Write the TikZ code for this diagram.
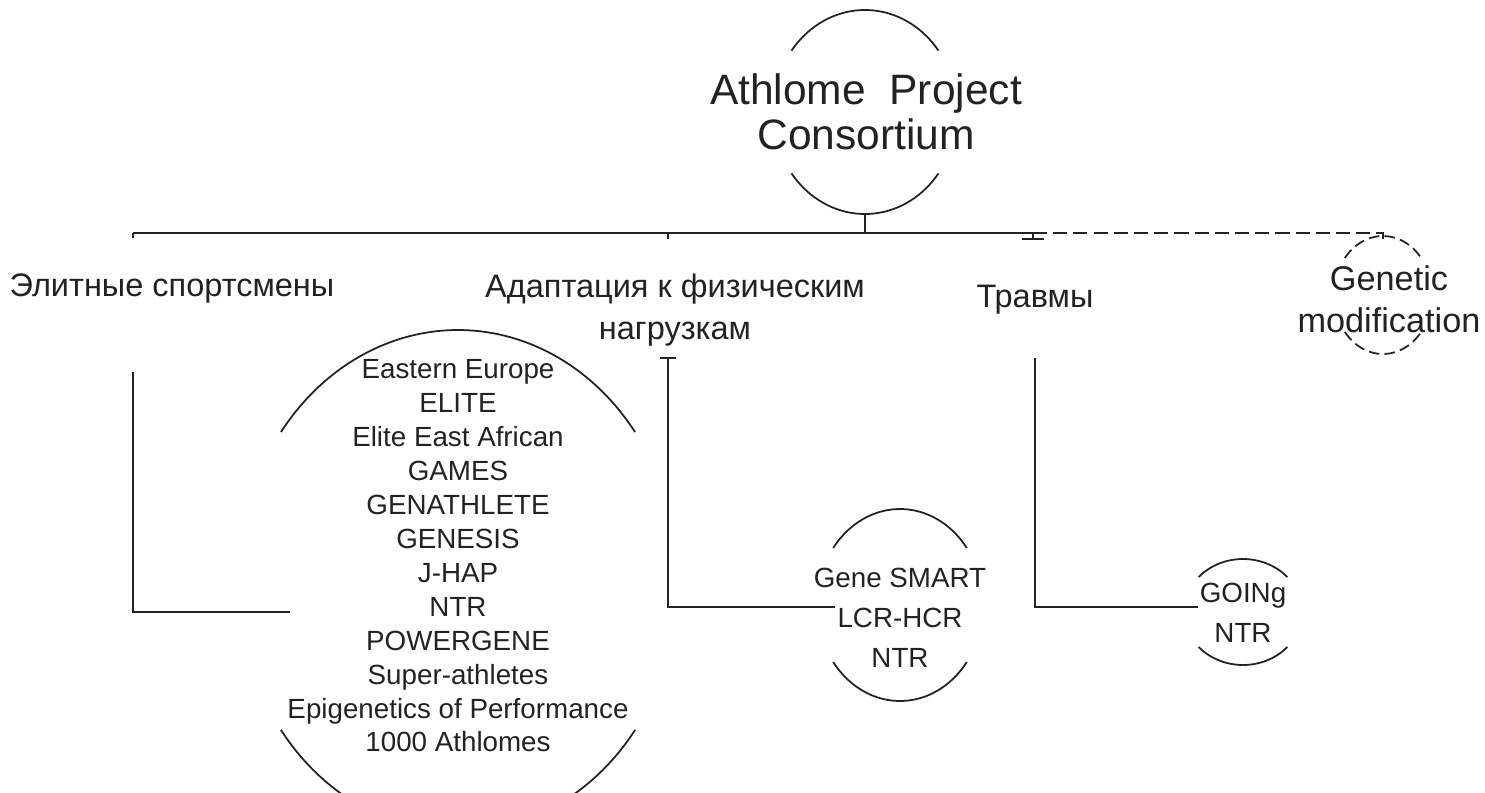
\documentclass[tikz,border=0pt]{standalone}
\usepackage{fontspec}
\setmainfont{Liberation Sans}
\usepackage{tikz}
\usetikzlibrary{calc,arrows.meta}
\definecolor{ink}{HTML}{222222}
\tikzstyle{title}=[align=center, inner sep=0pt, text=ink, font=\fontsize{24.2}{25.5}\selectfont]
\tikzstyle{branch}=[align=center, inner sep=0pt, text=ink, font=\fontsize{18.5}{23.5}\selectfont]
\tikzstyle{list}=[align=center, inner sep=0pt, text=ink, font=\fontsize{15.8}{19.3}\selectfont]
\tikzstyle{shortlist}=[list, font=\fontsize{15.8}{22.7}\selectfont]
\tikzstyle{wire}=[draw=ink, line width=1pt]
\tikzstyle{dashwire}=[wire, dash pattern=on 8pt off 3.5pt]
% two caps of an ellipse: [style] center, x radius, y radius, gap angle
\newcommand{\caparcs}[5][]{%
  \draw[wire,#1] ($(#2)+({180-#5}:#3 and #4)$) arc[start angle={180-#5}, end angle=#5, x radius=#3, y radius=#4];
  \draw[wire,#1] ($(#2)+({180+#5}:#3 and #4)$) arc[start angle={180+#5}, end angle={360-#5}, x radius=#3, y radius=#4];
}

\begin{document}
\begin{tikzpicture}[x=0.02cm, y=0.02cm]
\useasboundingbox (0,0) rectangle (1485,-792);

\node [title] (root) at (866,-112) {Athlome\ \ Project\\Consortium};
\node [branch] (elite) at (172,-289) {Элитные спортсмены};
\node [branch] (adapt) at (675,-310) {Адаптация к физическим\\нагрузкам};
\node [branch] (injury) at (1035,-300) {Травмы};
\node [branch, font=\fontsize{19.5}{24}\selectfont] (genmod) at (1389,-299) {Genetic\\modification};
\node [list] (elitelist) at (458,-556) {Eastern Europe\\ELITE\\Elite East African\\GAMES\\GENATHLETE\\GENESIS\\J-HAP\\NTR\\POWERGENE\\Super-athletes\\Epigenetics of Performance\\1000 Athlomes};
\node [shortlist] (adaptlist) at (900,-618) {Gene SMART\\LCR-HCR\\NTR};
\node [shortlist] (injlist) at (1243,-613) {GOINg\\NTR};

\coordinate (rootcap) at (865,-215);
\coordinate (hub) at (865,-233);
\coordinate (barL) at (133,-233);
\coordinate (barA) at (668,-233);
\coordinate (barI) at (1033,-233);
\coordinate (barG) at (1383,-233);
\coordinate (genmodcap) at (1383,-239);

\caparcs{865,-112}{92}{102}{37}
\caparcs{458,-581}{220}{251}{36.4}
\caparcs{900,-605}{83}{96}{36.4}
\caparcs{1243,-612}{59}{53}{41.3}
\caparcs[dash pattern=on 6pt off 3pt]{1383,-295}{49}{59}{38.8}

% tree bar
\draw [wire] (rootcap) -- (hub);
\draw [wire] (barL) -- (barI);
\draw [dashwire] (barI) -- (barG) -- (genmodcap);
\draw [wire] (barL) -- ++(0,-5);
\draw [wire] (barA) -- ++(0,-6);
\draw [wire, -{Bar[width=13pt]}] (barI) -- ++(0,-7);

% branches to lists
\draw [wire] (133,-372) |- (290,-612);
\draw [wire, {Bar[width=9pt]}-] (668,-357) |- (835,-607);
\draw [wire] (1035,-358) |- (1198,-607);
\end{tikzpicture}
\end{document}
